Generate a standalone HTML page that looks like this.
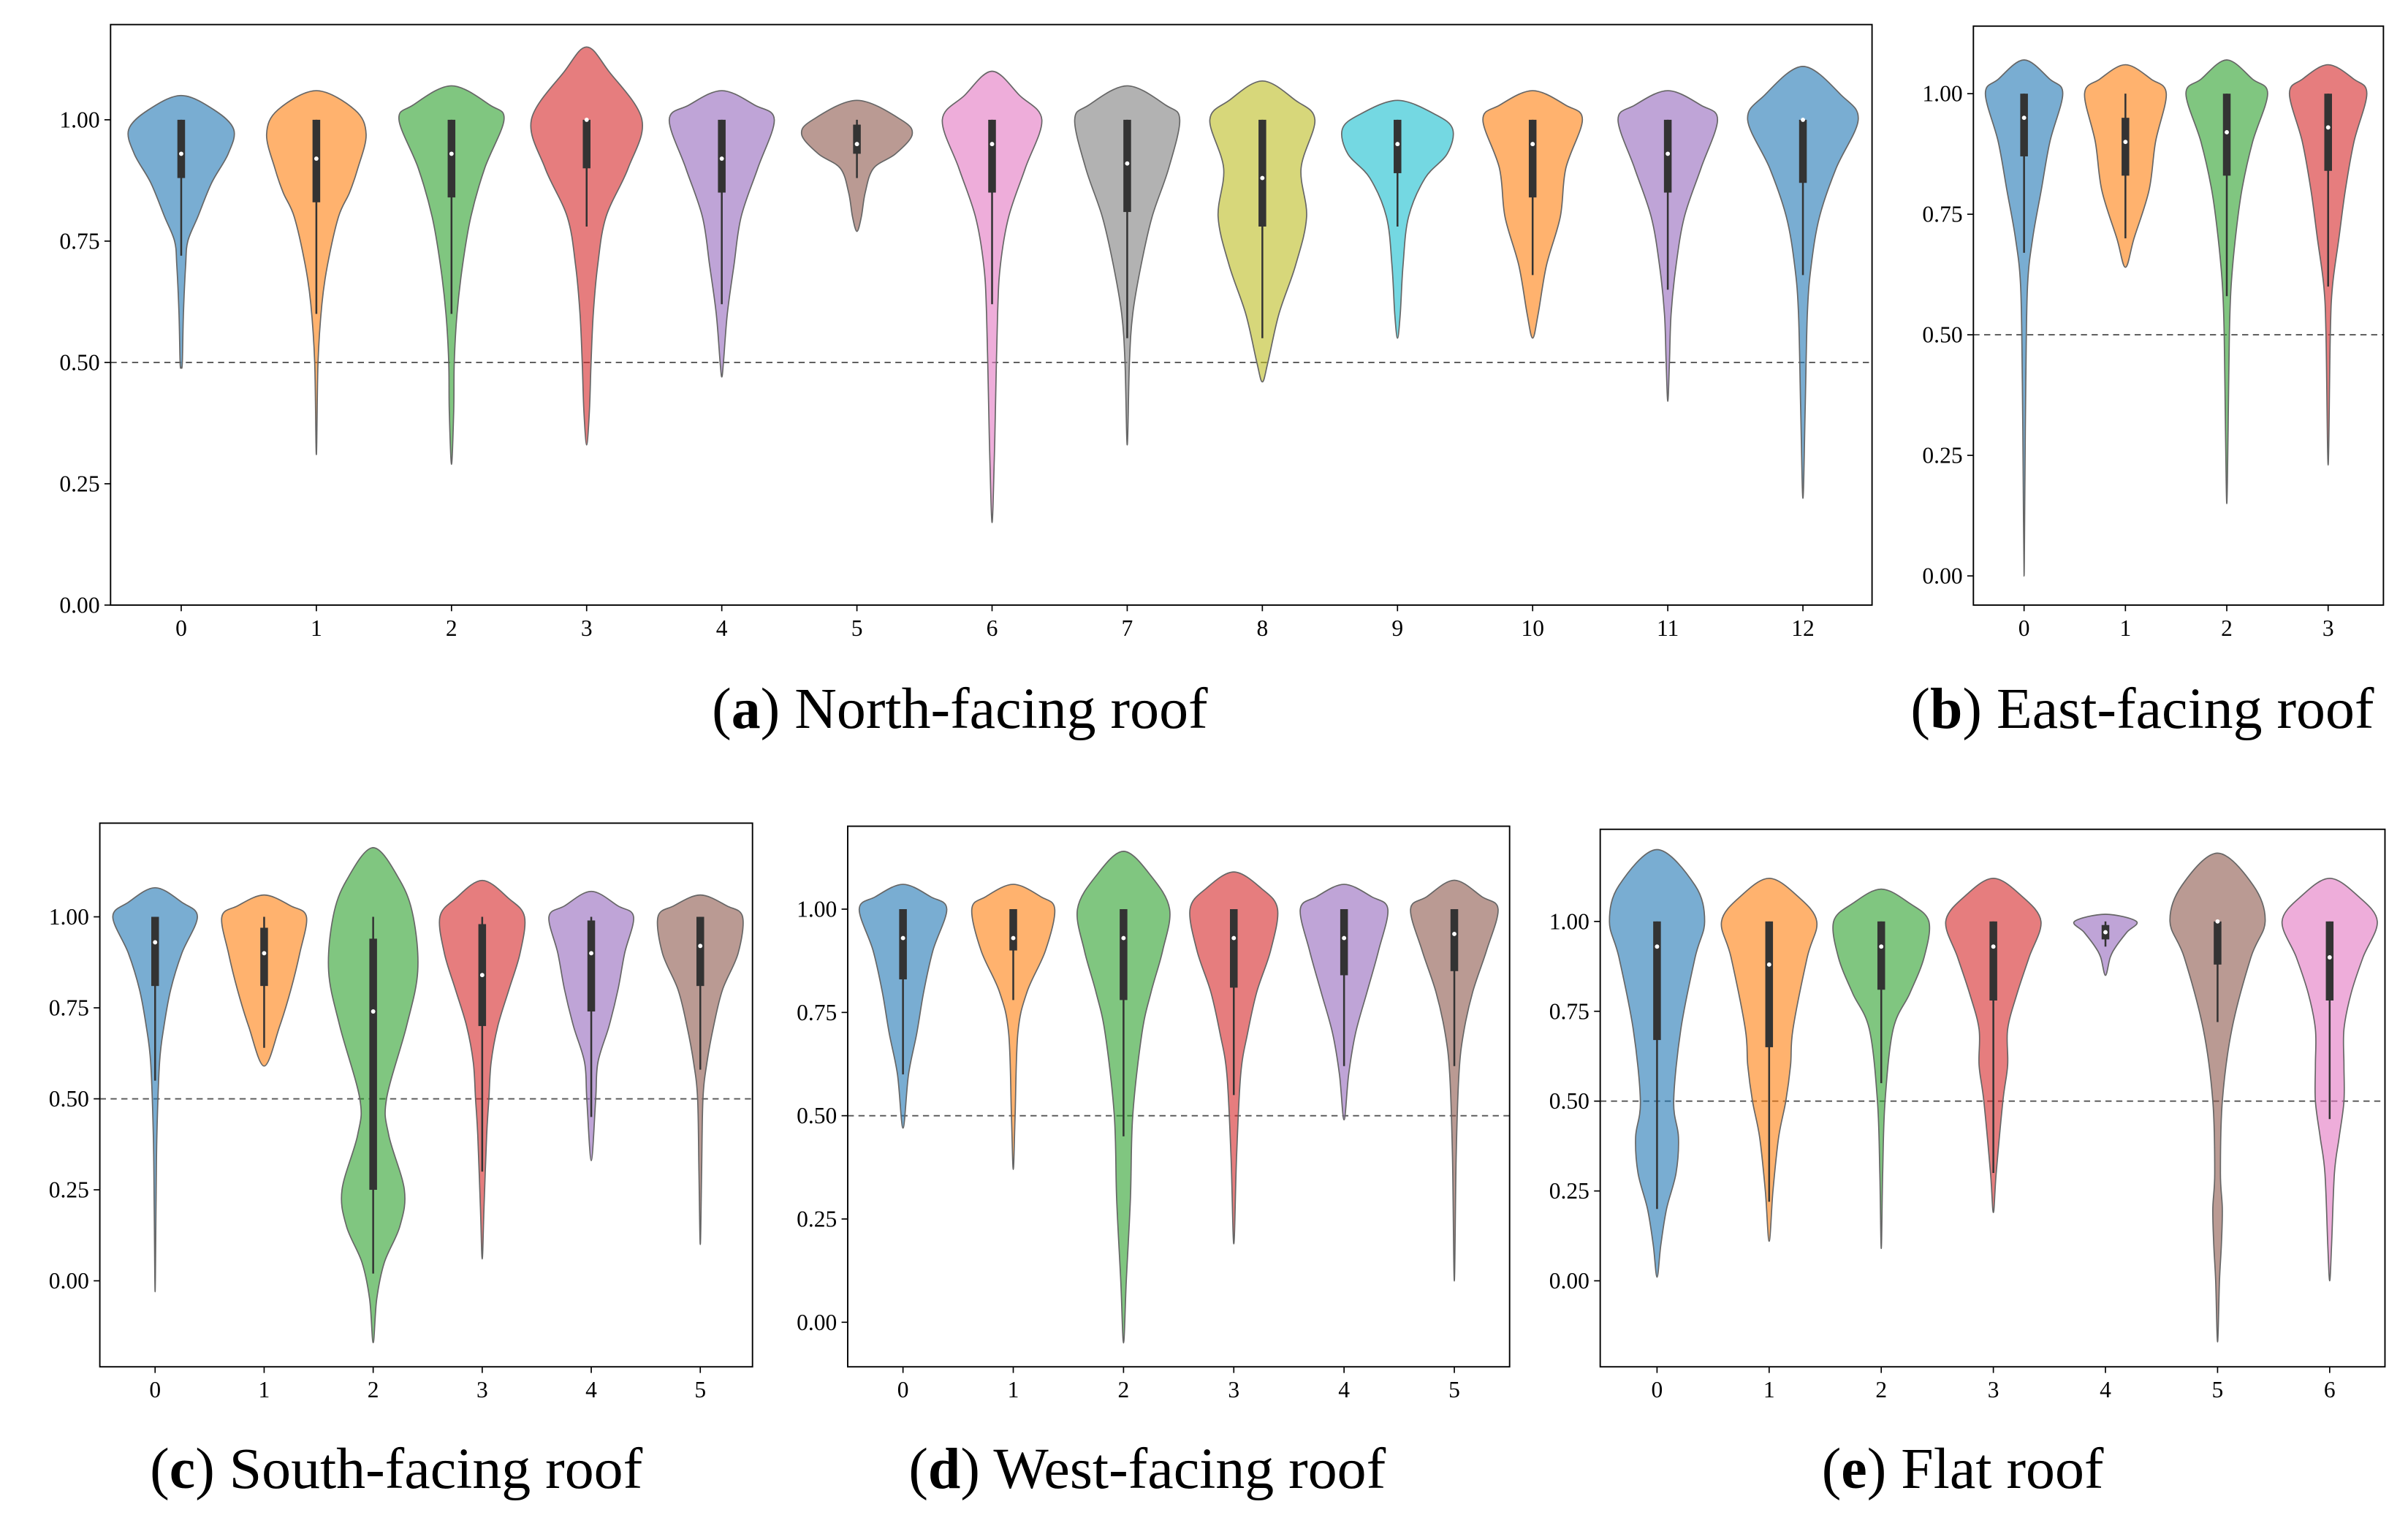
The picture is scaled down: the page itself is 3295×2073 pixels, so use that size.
<!DOCTYPE html>
<html><head><meta charset="utf-8"><style>
html,body{margin:0;padding:0;background:#fff}
svg{display:block}
text{font-family:"Liberation Serif",serif}
</style></head><body>
<svg id="fig" width="3295" height="2073" viewBox="0 0 1568 986.5" preserveAspectRatio="none" xmlns="http://www.w3.org/2000/svg"></svg>
<script>
// ---- data ----
const colors=["#1f77b4","#ff7f0e","#2ca02c","#d62728","#9467bd","#8c564b","#e377c2","#7f7f7f","#bcbd22","#17becf","#ff7f0e","#9467bd","#1f77b4"];
const yTicks=[0,0.25,0.5,0.75,1.0];
const yTickLabels=["0.00","0.25","0.50","0.75","1.00"];
// shapes: [value, relative half width]
const northShapes=[
[[1.05,0],[1.02,0.6],[0.98,0.95],[0.93,0.85],[0.87,0.55],[0.8,0.3],[0.75,0.12],[0.7,0.08],[0.6,0.04],[0.5,0.02],[0.49,0]],
[[1.06,0],[1.02,0.7],[0.97,0.9],[0.9,0.75],[0.85,0.6],[0.8,0.4],[0.7,0.2],[0.62,0.1],[0.5,0.03],[0.31,0]],
[[1.07,0],[1.03,0.7],[1.0,0.95],[0.9,0.6],[0.8,0.35],[0.7,0.2],[0.6,0.1],[0.5,0.05],[0.4,0.04],[0.29,0]],
[[1.15,0],[1.1,0.4],[1.0,1.0],[0.9,0.75],[0.8,0.35],[0.7,0.2],[0.6,0.12],[0.5,0.08],[0.4,0.05],[0.33,0]],
[[1.06,0],[1.03,0.6],[1.0,0.95],[0.9,0.65],[0.8,0.35],[0.7,0.22],[0.6,0.1],[0.5,0.03],[0.47,0]],
[[1.04,0],[1.0,0.8],[0.97,1.0],[0.93,0.7],[0.9,0.3],[0.85,0.15],[0.8,0.08],[0.77,0]],
[[1.1,0],[1.05,0.5],[1.0,0.9],[0.9,0.6],[0.8,0.3],[0.7,0.15],[0.6,0.1],[0.4,0.06],[0.3,0.04],[0.17,0]],
[[1.07,0],[1.03,0.7],[1.0,0.95],[0.9,0.75],[0.8,0.45],[0.7,0.25],[0.6,0.1],[0.5,0.04],[0.33,0]],
[[1.08,0],[1.04,0.6],[1.0,0.95],[0.9,0.7],[0.8,0.8],[0.7,0.6],[0.6,0.3],[0.5,0.1],[0.46,0]],
[[1.04,0],[1.01,0.7],[0.98,1.0],[0.93,0.9],[0.88,0.5],[0.8,0.2],[0.7,0.1],[0.6,0.05],[0.55,0]],
[[1.06,0],[1.03,0.6],[1.0,0.9],[0.9,0.6],[0.8,0.5],[0.7,0.25],[0.6,0.1],[0.55,0]],
[[1.06,0],[1.03,0.6],[1.0,0.9],[0.9,0.6],[0.8,0.3],[0.7,0.15],[0.6,0.06],[0.5,0.03],[0.42,0]],
[[1.11,0],[1.05,0.7],[1.0,1.0],[0.9,0.6],[0.8,0.3],[0.7,0.15],[0.6,0.08],[0.4,0.04],[0.22,0]]];
const northBox=[[0.88,0.93,1.0,0.72,1.0],[0.83,0.92,1.0,0.6,1.0],[0.84,0.93,1.0,0.6,1.0],[0.9,1.0,1.0,0.78,1.0],[0.85,0.92,1.0,0.62,1.0],[0.93,0.95,0.99,0.88,1.0],[0.85,0.95,1.0,0.62,1.0],[0.81,0.91,1.0,0.55,1.0],[0.78,0.88,1.0,0.55,1.0],[0.89,0.95,1.0,0.78,1.0],[0.84,0.95,1.0,0.68,1.0],[0.85,0.93,1.0,0.65,1.0],[0.87,1.0,1.0,0.68,1.0]];
const eastShapes=[
[[1.07,0],[1.03,0.6],[1.0,0.9],[0.9,0.6],[0.8,0.4],[0.7,0.2],[0.6,0.08],[0.4,0.04],[0.2,0.02],[0.0,0]],
[[1.06,0],[1.03,0.6],[1.0,0.95],[0.9,0.7],[0.8,0.55],[0.7,0.2],[0.64,0]],
[[1.07,0],[1.03,0.6],[1.0,0.95],[0.9,0.6],[0.8,0.35],[0.7,0.2],[0.6,0.1],[0.5,0.06],[0.3,0.03],[0.15,0]],
[[1.06,0],[1.03,0.6],[1.0,0.9],[0.9,0.6],[0.8,0.4],[0.7,0.25],[0.6,0.1],[0.5,0.05],[0.23,0]]];
const eastBox=[[0.87,0.95,1.0,0.67,1.0],[0.83,0.9,0.95,0.7,1.0],[0.83,0.92,1.0,0.58,1.0],[0.84,0.93,1.0,0.6,1.0]];
const southShapes=[
[[1.08,0],[1.04,0.6],[1.0,0.95],[0.9,0.6],[0.8,0.35],[0.7,0.2],[0.6,0.1],[0.4,0.04],[0.2,0.02],[-0.03,0]],
[[1.06,0],[1.03,0.6],[1.0,0.95],[0.9,0.8],[0.8,0.6],[0.7,0.35],[0.59,0]],
[[1.19,0],[1.1,0.6],[1.0,0.9],[0.85,1.0],[0.7,0.75],[0.5,0.3],[0.4,0.35],[0.25,0.7],[0.15,0.6],[0.05,0.25],[-0.05,0.08],[-0.17,0]],
[[1.1,0],[1.05,0.6],[1.0,0.95],[0.9,0.85],[0.8,0.6],[0.7,0.35],[0.6,0.2],[0.5,0.15],[0.4,0.1],[0.2,0.04],[0.06,0]],
[[1.07,0],[1.03,0.6],[1.0,0.95],[0.9,0.75],[0.8,0.6],[0.7,0.4],[0.6,0.15],[0.5,0.1],[0.33,0]],
[[1.06,0],[1.03,0.6],[1.0,0.95],[0.9,0.85],[0.8,0.5],[0.7,0.3],[0.6,0.15],[0.5,0.06],[0.3,0.03],[0.1,0]]];
const southBox=[[0.81,0.93,1.0,0.55,1.0],[0.81,0.9,0.97,0.64,1.0],[0.25,0.74,0.94,0.02,1.0],[0.7,0.84,0.98,0.3,1.0],[0.74,0.9,0.99,0.45,1.0],[0.81,0.92,1.0,0.58,1.0]];
const westShapes=[
[[1.06,0],[1.03,0.6],[1.0,0.95],[0.9,0.65],[0.8,0.45],[0.7,0.3],[0.6,0.12],[0.47,0]],
[[1.06,0],[1.03,0.6],[1.0,0.9],[0.9,0.7],[0.8,0.3],[0.7,0.1],[0.5,0.04],[0.37,0]],
[[1.14,0],[1.08,0.6],[1.0,1.0],[0.9,0.85],[0.8,0.6],[0.7,0.4],[0.5,0.2],[0.3,0.15],[0.1,0.06],[-0.05,0]],
[[1.09,0],[1.05,0.6],[1.0,0.95],[0.9,0.8],[0.8,0.5],[0.7,0.3],[0.6,0.15],[0.4,0.06],[0.19,0]],
[[1.06,0],[1.03,0.6],[1.0,0.95],[0.9,0.75],[0.8,0.5],[0.7,0.25],[0.6,0.1],[0.49,0]],
[[1.07,0],[1.03,0.6],[1.0,0.95],[0.9,0.7],[0.8,0.4],[0.7,0.2],[0.6,0.1],[0.4,0.04],[0.1,0]]];
const westBox=[[0.83,0.93,1.0,0.6,1.0],[0.9,0.93,1.0,0.78,1.0],[0.78,0.93,1.0,0.45,1.0],[0.81,0.93,1.0,0.55,1.0],[0.84,0.93,1.0,0.62,1.0],[0.85,0.94,1.0,0.62,1.0]];
const flatShapes=[
[[1.2,0],[1.1,0.8],[1.0,1.0],[0.9,0.8],[0.7,0.5],[0.5,0.35],[0.4,0.45],[0.3,0.4],[0.2,0.2],[0.1,0.08],[0.01,0]],
[[1.12,0],[1.07,0.6],[1.0,1.0],[0.9,0.8],[0.7,0.5],[0.6,0.45],[0.5,0.35],[0.4,0.2],[0.25,0.08],[0.11,0]],
[[1.09,0],[1.05,0.6],[1.0,1.0],[0.9,0.9],[0.8,0.6],[0.7,0.25],[0.5,0.08],[0.3,0.03],[0.09,0]],
[[1.12,0],[1.07,0.6],[1.0,1.0],[0.9,0.75],[0.8,0.5],[0.7,0.3],[0.6,0.3],[0.5,0.2],[0.3,0.06],[0.19,0]],
[[1.02,0],[1.0,0.65],[0.97,0.45],[0.93,0.22],[0.9,0.1],[0.85,0]],
[[1.19,0],[1.1,0.75],[1.0,1.0],[0.9,0.7],[0.7,0.3],[0.5,0.1],[0.3,0.06],[0.2,0.1],[0.1,0.08],[0.0,0.04],[-0.17,0]],
[[1.12,0],[1.07,0.6],[1.0,1.0],[0.9,0.7],[0.8,0.45],[0.7,0.3],[0.6,0.3],[0.5,0.3],[0.4,0.2],[0.3,0.1],[0.1,0.04],[0.0,0]]];
const flatBox=[[0.67,0.93,1.0,0.2,1.0],[0.65,0.88,1.0,0.22,1.0],[0.81,0.93,1.0,0.55,1.0],[0.78,0.93,1.0,0.3,1.0],[0.95,0.97,0.99,0.93,1.0],[0.88,1.0,1.0,0.72,1.0],[0.78,0.9,1.0,0.45,1.0]];

const panels=[
 {name:"north",letter:"a",title:" North-facing roof",L:72,R:1219,T:16,B:394,y0:394,y1:78,cx0:118,dx:88,hw:36,shapes:northShapes,box:northBox,cap:[625,462],colors:colors},
 {name:"east",letter:"b",title:" East-facing roof",L:1285,R:1552,T:17,B:394,y0:375,y1:61,cx0:1318,dx:66,hw:28,shapes:eastShapes,box:eastBox,cap:[1395,462],colors:colors},
 {name:"south",letter:"c",title:" South-facing roof",L:65,R:490,T:536,B:890,y0:834,y1:597,cx0:101,dx:71,hw:29,shapes:southShapes,box:southBox,cap:[258,957],colors:colors},
 {name:"west",letter:"d",title:" West-facing roof",L:552,R:983,T:538,B:890,y0:861,y1:592,cx0:588,dx:71.8,hw:30,shapes:westShapes,box:westBox,cap:[747,957],colors:colors},
 {name:"flat",letter:"e",title:" Flat roof",L:1042,R:1553,T:540,B:890,y0:834,y1:600,cx0:1079,dx:73,hw:31,shapes:flatShapes,box:flatBox,cap:[1278,957],colors:colors}
];
const NS="http://www.w3.org/2000/svg";
const svg=document.getElementById('fig');
function mk(tag,attrs,parent){const e=document.createElementNS(NS,tag);for(const k in attrs)e.setAttribute(k,attrs[k]);(parent||svg).appendChild(e);return e;}
function smoothClosed(pts){
 let d="M"+pts[0][0]+","+pts[0][1];const n=pts.length;
 for(let i=0;i<n;i++){const p0=pts[(i-1+n)%n],p1=pts[i],p2=pts[(i+1)%n],p3=pts[(i+2)%n];
  const c1=[p1[0]+(p2[0]-p0[0])/6,p1[1]+(p2[1]-p0[1])/6],c2=[p2[0]-(p3[0]-p1[0])/6,p2[1]-(p3[1]-p1[1])/6];
  d+=` C${c1[0].toFixed(2)},${c1[1].toFixed(2)} ${c2[0].toFixed(2)},${c2[1].toFixed(2)} ${p2[0].toFixed(2)},${p2[1].toFixed(2)}`;}
 return d+"Z";}
panels.forEach(P=>{
 const g=mk('g',{});
 
 
 const Y=v=>P.y0+(P.y1-P.y0)*v;
 const X=i=>P.cx0+P.dx*i;
 const ref=mk('line',{x1:P.L,x2:P.R,y1:Y(0.5),y2:Y(0.5),stroke:"#555","stroke-width":0.9,"stroke-dasharray":"4,3"},g);
 
 
 P.shapes.forEach((s,i)=>{
  const cx=X(i);const right=s.map(k=>[cx+k[1]*P.hw,Y(k[0])]);
  const left=s.slice(1,-1).reverse().map(k=>[cx-k[1]*P.hw,Y(k[0])]);
  const pts=right.concat(left);
  const c=P.colors[i%P.colors.length];
  const v=mk('path',{d:smoothClosed(pts),fill:c,"fill-opacity":0.6,stroke:"#666","stroke-width":0.8},g);
  
  
  const b=P.box[i];
  const w=mk('line',{x1:cx,x2:cx,y1:Y(b[3]),y2:Y(b[4]),stroke:"#333","stroke-width":1.2},g);
  
  
  const r=mk('rect',{x:cx-2.5,width:5,y:Y(b[2]),height:Math.max(1,Y(b[0])-Y(b[2])),fill:"#333"},g);
  
  
  const m=mk('circle',{cx:cx,cy:Y(b[1]),r:1.4,fill:"#fff"},g);
  
  
  const xt=mk('line',{x1:cx,x2:cx,y1:P.B,y2:P.B+4,stroke:"#000","stroke-width":0.8},g);
  
  
  const xl=mk('text',{x:cx,y:P.B+20,"font-size":15,"text-anchor":"middle"},g);xl.textContent=i;
  
  
 });
 yTicks.forEach((t,j)=>{
  const yt=mk('line',{x1:P.L-4,x2:P.L,y1:Y(t),y2:Y(t),stroke:"#000","stroke-width":0.8},g);
  
  
  const yl=mk('text',{x:P.L-7,y:Y(t)+5,"font-size":15,"text-anchor":"end"},g);yl.textContent=yTickLabels[j];
  
  
 });
 const fr=mk('rect',{x:P.L,y:P.T,width:P.R-P.L,height:P.B-P.T,fill:"none",stroke:"#000","stroke-width":0.9},g);
 
 
 const cap=mk('text',{x:P.cap[0],y:P.cap[1]+12,"font-size":38,"text-anchor":"middle"},g);
 
 
 const t1=mk('tspan',{},cap);t1.textContent="(";
 const t2=mk('tspan',{"font-weight":"bold"},cap);t2.textContent=P.letter;
 const t3=mk('tspan',{},cap);t3.textContent=")"+P.title;
});
</script>
</body></html>
